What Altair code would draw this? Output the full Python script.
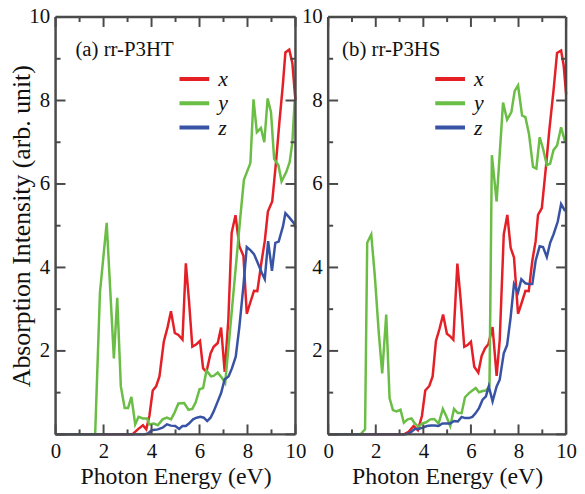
import altair as alt
import pandas as pd

FONT = "Liberation Serif"
INK = "#111111"
FRAME_INK = "#4a4a4a"
COMPS = ["x", "y", "z"]
COLORS = ["#e41f26", "#6abd45", "#3953a4"]

a_x_e = [0, 3.2, 3.43, 3.64, 3.78, 3.91, 4.05, 4.19, 4.33, 4.51, 4.67, 4.81, 4.97, 5.12, 5.29, 5.43, 5.56,
         5.7, 5.87, 6.02, 6.15, 6.29, 6.46, 6.59, 6.76, 6.9, 7.05, 7.2, 7.34, 7.5, 7.66, 7.83, 7.97, 8.1,
         8.27, 8.41, 8.59, 8.72, 8.85, 9.03, 9.19, 9.33, 9.47, 9.58, 9.74, 9.87, 9.97, 10.0]
a_x_i = [0, 0, 0.12, 0.22, 0.12, 0.44, 1.05, 1.15, 1.39, 2.22, 2.57, 2.95, 2.43, 2.38, 2.27, 4.1, 3.21,
         2.1, 2.16, 2.24, 1.58, 1.5, 1.94, 2.1, 2.19, 2.56, 1.5, 2.73, 4.83, 5.25, 4.51, 4.28, 2.89, 3.13,
         3.44, 3.43, 4.16, 4.63, 5.34, 5.58, 6.53, 7.48, 8.35, 9.15, 9.22, 8.9, 8.19, 8.0]
a_y_e = [0, 1.65, 1.85, 2.13, 2.43, 2.57, 2.72, 2.88, 3.02, 3.16, 3.32, 3.46, 3.64, 3.82, 3.9, 4.09, 4.26,
         4.46, 4.64, 4.81, 4.95, 5.12, 5.36, 5.54, 5.7, 5.84, 6.0, 6.15, 6.29, 6.48, 6.59, 6.76, 6.94, 7.07,
         7.4, 7.7, 7.85, 8.12, 8.25, 8.39, 8.56, 8.7, 8.84, 8.98, 9.11, 9.29, 9.42, 9.62, 9.76, 9.87, 9.97]
a_y_i = [0, 0, 3.4, 5.07, 1.82, 3.27, 1.15, 0.63, 0.63, 0.9, 0.24, 0.42, 0.38, 0.38, 0.24, 0.26, 0.22,
         0.36, 0.4, 0.36, 0.51, 0.74, 0.75, 0.59, 0.61, 0.77, 1.08, 1.11, 1.53, 1.39, 1.4, 1.48, 1.35, 1.23,
         3.3, 5.2, 6.1, 6.5, 8.03, 7.24, 7.34, 7.0, 8.05, 7.72, 6.6, 6.45, 6.06, 6.29, 6.53, 7.0, 8.03]
a_z_e = [0, 3.7, 3.85, 4.01, 4.26, 4.46, 4.64, 4.81, 4.99, 5.15, 5.29, 5.43, 5.56, 5.73, 5.88, 6.04, 6.18,
         6.32, 6.46, 6.59, 6.76, 6.9, 7.05, 7.21, 7.35, 7.51, 7.66, 7.83, 7.97, 8.13, 8.27, 8.42, 8.59, 8.72,
         8.86, 9.02, 9.16, 9.3, 9.48, 9.58, 9.74, 9.95, 10.0]
a_z_i = [0, 0, 0.02, 0.1, 0.12, 0.16, 0.24, 0.21, 0.2, 0.13, 0.2, 0.2, 0.26, 0.36, 0.4, 0.42, 0.4,
         0.32, 0.4, 0.55, 0.79, 0.99, 1.32, 1.39, 1.58, 1.86, 2.57, 3.56, 4.49, 4.41, 4.32, 4.12, 3.88, 3.72,
         4.63, 3.92, 4.59, 4.62, 4.99, 5.3, 5.2, 5.05, 4.95]

b_x_e = [0, 3.18, 3.38, 3.59, 3.77, 3.94, 4.08, 4.25, 4.39, 4.53, 4.68, 4.83, 4.99, 5.13, 5.26, 5.43, 5.57,
         5.72, 5.86, 6.0, 6.14, 6.31, 6.45, 6.59, 6.73, 6.91, 7.08, 7.21, 7.38, 7.53, 7.67, 7.81, 7.98, 8.12,
         8.29, 8.43, 8.58, 8.72, 8.82, 8.98, 9.16, 9.3, 9.47, 9.62, 9.79, 9.9, 10.0]
b_x_i = [0, 0, 0.06, 0.2, 0.1, 0.44, 1.05, 1.16, 1.39, 2.24, 2.53, 2.87, 2.41, 2.35, 2.27, 4.09, 3.21,
         2.1, 2.14, 2.22, 1.62, 1.48, 1.88, 2.06, 2.16, 2.57, 1.4, 2.26, 4.79, 5.26, 4.47, 4.24, 2.89, 3.13,
         3.44, 3.43, 4.16, 4.63, 5.26, 5.42, 6.45, 7.32, 8.23, 9.14, 9.2, 8.83, 8.15]
b_y_e = [0, 1.36, 1.55, 1.64, 1.81, 1.96, 2.13, 2.27, 2.44, 2.58, 2.72, 2.87, 3.04, 3.18, 3.34, 3.5, 3.64,
         3.8, 3.94, 4.12, 4.29, 4.46, 4.64, 4.82, 4.96, 5.13, 5.29, 5.45, 5.61, 5.75, 5.92, 6.06, 6.2, 6.34,
         6.49, 6.63, 6.78, 6.88, 7.08, 7.35, 7.52, 7.7, 7.84, 7.98, 8.15, 8.29, 8.44, 8.61, 8.75, 8.89, 9.03,
         9.19, 9.33, 9.47, 9.62, 9.79, 9.96]
b_y_i = [0, 0, 0.12, 4.59, 4.79, 3.8, 2.41, 1.46, 2.87, 0.87, 0.58, 0.55, 0.59, 0.28, 0.36, 0.38, 0.26,
         0.18, 0.26, 0.29, 0.36, 0.37, 0.26, 0.61, 0.44, 0.2, 0.61, 0.51, 0.51, 0.89, 0.99, 1.05, 1.11, 1.01,
         1.04, 1.05, 1.15, 6.69, 5.58, 7.95, 7.54, 7.72, 8.23, 8.36, 7.64, 7.6, 7.2, 6.41, 6.37, 7.12, 6.85,
         6.45, 6.49, 6.81, 6.92, 7.36, 7.0]
b_z_e = [0, 3.25, 3.45, 3.64, 3.8, 3.97, 4.15, 4.32, 4.47, 4.64, 4.8, 4.99, 5.13, 5.29, 5.45, 5.61, 5.75,
         5.92, 6.06, 6.2, 6.34, 6.49, 6.63, 6.75, 6.91, 7.08, 7.21, 7.38, 7.52, 7.67, 7.81, 7.98, 8.12, 8.29,
         8.43, 8.58, 8.72, 8.89, 9.03, 9.19, 9.33, 9.47, 9.65, 9.79, 9.96]
b_z_i = [0, 0, 0.04, 0.13, 0.13, 0.16, 0.2, 0.21, 0.21, 0.2, 0.26, 0.26, 0.26, 0.32, 0.31, 0.42, 0.39,
         0.39, 0.42, 0.51, 0.63, 0.83, 0.91, 1.15, 0.79, 1.15, 1.31, 1.94, 2.14, 2.81, 3.6, 3.4, 3.72, 3.62,
         3.6, 3.6, 4.16, 4.51, 4.49, 4.25, 4.59, 4.79, 5.1, 5.52, 5.35]

DOMAIN = [0, 10]
MAJOR_TICKS = [0, 2, 4, 6, 8, 10]
MINOR_TICKS = [1, 3, 5, 7, 9]
X_LABELS = [0, 2, 4, 6, 8, 10]
Y_LABELS = [2, 4, 6, 8, 10]
PANEL_LABELS = ["(a) rr-P3HT", "(b) rr-P3HS"]
X_TITLE = "Photon Energy (eV)"
Y_TITLE = "Absorption Intensity (arb. unit)"

H = 421
MAJ_PX, MIN_PX = 10, 5


def long_df(series):
    rows = []
    for comp, (e, i) in zip(COMPS, series):
        for ee, ii in zip(e, i):
            rows.append({"energy": ee, "intensity": ii, "comp": comp})
    return pd.DataFrame(rows)


def frame_segments():
    lo, hi = DOMAIN
    return pd.DataFrame([(lo, hi, lo, lo), (lo, hi, hi, hi), (lo, lo, lo, hi), (hi, hi, lo, hi)],
                        columns=["energy", "energy2", "intensity", "intensity2"])


def tick_segments(W):
    lo, hi = DOMAIN
    span = hi - lo
    segs = []
    for vals, px in ((MAJOR_TICKS, MAJ_PX), (MINOR_TICKS, MIN_PX)):
        dy = span * px / H
        dx = span * px / W
        for t in vals:
            segs.append((t, t, lo, lo + dy))   # bottom, pointing in
            segs.append((t, t, hi, hi - dy))   # top, pointing in
            segs.append((lo, lo + dx, t, t))   # left, pointing in
            segs.append((hi, hi - dx, t, t))   # right, pointing in
    return pd.DataFrame(segs, columns=["energy", "energy2", "intensity", "intensity2"])


def make_panel(df, W, label, label_dx, leg_x, y_title):
    xs = alt.Scale(domain=DOMAIN, nice=False, zero=False)
    ys = alt.Scale(domain=DOMAIN, nice=False, zero=False)
    xaxis = alt.Axis(values=X_LABELS, ticks=False, domain=False, grid=False, labelPadding=6,
                     labelFlush=False, title=X_TITLE, titlePadding=4, titleFontSize=24)
    yaxis = alt.Axis(values=Y_LABELS, ticks=False, domain=False, grid=False, labelPadding=6,
                     labelFlush=False, title=y_title if y_title else "", titlePadding=-6,
                     titleFontSize=26)

    color = alt.Color(
        "comp:N",
        scale=alt.Scale(domain=COMPS, range=COLORS),
        legend=alt.Legend(title=None, orient="none", legendX=leg_x, legendY=52,
                          symbolType="stroke", symbolStrokeWidth=4, symbolSize=900,
                          labelFont=FONT, labelFontStyle="italic", labelFontSize=22,
                          labelColor=INK, clipHeight=21, rowPadding=1.5, labelOffset=7,
                          padding=0),
    )

    lines = alt.Chart(df).mark_line(strokeWidth=2.5).encode(
        x=alt.X("energy:Q", scale=xs, axis=xaxis),
        y=alt.Y("intensity:Q", scale=ys, axis=yaxis),
        color=color,
    )

    enc = dict(
        x=alt.X("energy:Q", scale=xs, axis=xaxis),
        x2="energy2:Q",
        y=alt.Y("intensity:Q", scale=ys, axis=yaxis),
        y2="intensity2:Q",
    )
    ticks = alt.Chart(tick_segments(W)).mark_rule(color=FRAME_INK, strokeWidth=2).encode(**enc)
    frame = alt.Chart(frame_segments()).mark_rule(color=FRAME_INK, strokeWidth=2.5).encode(**enc)

    ann = alt.Chart(pd.DataFrame({"label": [label]})).mark_text(
        font=FONT, fontSize=21, align="left", baseline="alphabetic", color=INK
    ).encode(text="label:N", x=alt.value(label_dx), y=alt.value(39))

    return alt.layer(lines, ticks, frame, ann).properties(width=W, height=H)


left = make_panel(long_df([(a_x_e, a_x_i), (a_y_e, a_y_i), (a_z_e, a_z_i)]), 242,
                  PANEL_LABELS[0], 20, 123, Y_TITLE)
right = make_panel(long_df([(b_x_e, b_x_i), (b_y_e, b_y_i), (b_z_e, b_z_i)]), 240,
                   PANEL_LABELS[1], 14, 106, None)

chart = alt.hconcat(left, right, spacing=33, bounds="flush").resolve_scale(
    color="independent"
).resolve_legend(color="independent").configure(
    font=FONT
).configure_axis(
    labelFont=FONT, labelFontSize=21, labelColor=INK,
    titleFont=FONT, titleFontWeight="normal", titleColor=INK
).configure_view(
    stroke=None
).properties(padding={"left": 1, "top": -4, "right": 0, "bottom": 0})

chart.save("out.html", embed_options={"renderer": "svg", "actions": False})
